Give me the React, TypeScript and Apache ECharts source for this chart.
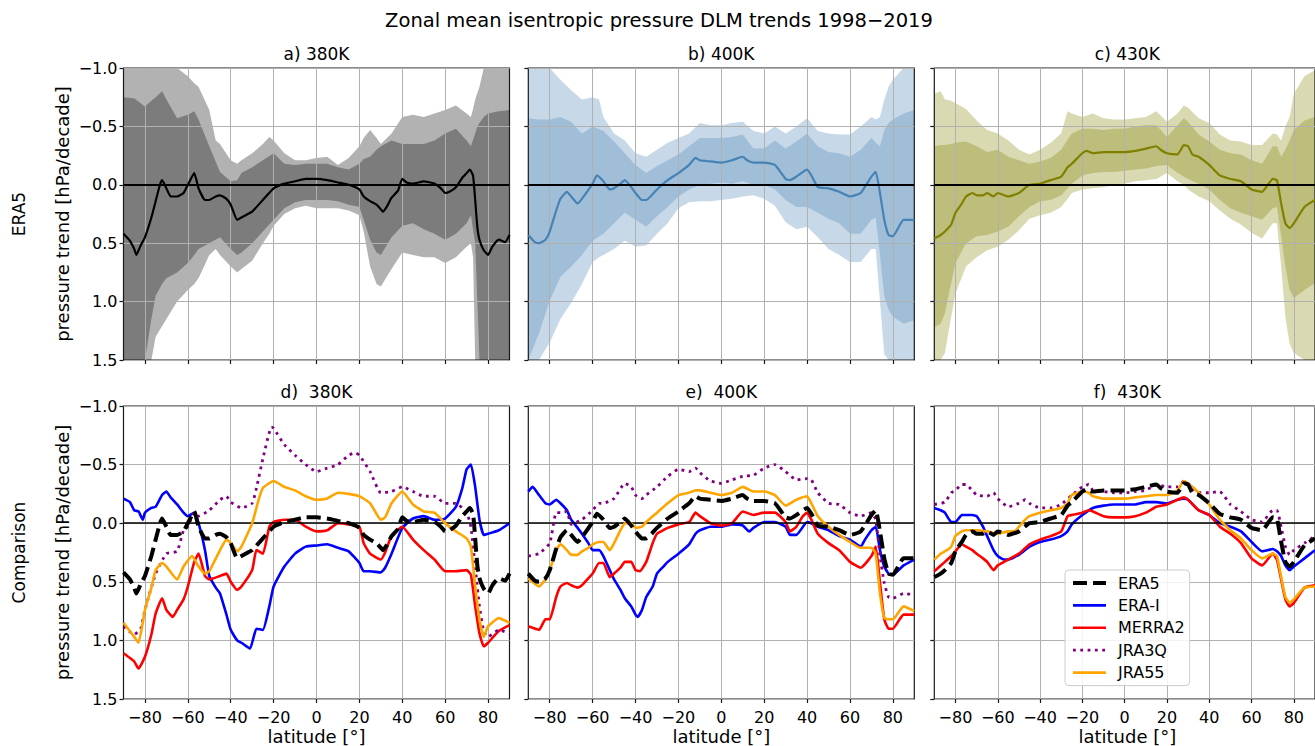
import { useEffect, useRef } from 'react';
import * as echarts from 'echarts';

const FONT = '"DejaVu Sans", "Liberation Sans", sans-serif';

// ---------- axes / labels ----------
const X_TICKS = [-80, -60, -40, -20, 0, 20, 40, 60, 80];
const Y_MIN = -1;
const Y_MAX = 1.5;
const Y_STEP = 0.5;
const SUPTITLE = 'Zonal mean isentropic pressure DLM trends 1998\u22122019';
const PANEL_TITLES = ['a) 380K', 'b) 400K', 'c) 430K', 'd)  380K', 'e)  400K', 'f)  430K'];
const ROW_LABELS = ['ERA5', 'Comparison'];
const Y_NAME = 'pressure trend [hPa/decade]';
const X_NAME = 'latitude [\u00b0]';
const LEGEND_NAMES = ['ERA5', 'ERA-I', 'MERRA2', 'JRA3Q', 'JRA55'];

// ---------- ERA5 mean trend lines [lat, trend] ----------
const ERA5_380 = [[-90,0.42],[-87,0.48],[-85,0.55],[-84,0.6],[-82,0.52],[-80,0.45],[-77,0.28],[-75,0.14],[-73,0.0],[-72,-0.04],[-70,0.03],[-68,0.1],[-65,0.1],[-62,0.07],[-60,0.0],[-57,-0.1],[-55,0.03],[-52,0.13],[-50,0.13],[-47,0.1],[-45,0.09],[-42,0.12],[-40,0.17],[-37,0.3],[-35,0.28],[-32,0.25],[-30,0.23],[-25,0.13],[-20,0.03],[-15,-0.01],[-10,-0.03],[-5,-0.05],[0,-0.05],[5,-0.04],[10,-0.02],[15,0],[20,0.04],[22,0.1],[25,0.14],[28,0.17],[30,0.21],[31,0.23],[33,0.18],[35,0.11],[38,0.05],[40,-0.05],[42,-0.02],[45,-0.01],[50,-0.03],[55,-0.01],[58,0.03],[60,0.07],[62,0.06],[65,0.02],[68,-0.06],[70,-0.1],[71.5,-0.13],[73,-0.08],[74,0.13],[75,0.36],[76,0.47],[78,0.56],[80,0.6],[82,0.53],[85,0.47],[88,0.49],[90,0.43]];
const ERA5_400 = [[-90,0.43],[-87,0.49],[-85,0.5],[-82,0.47],[-80,0.4],[-77,0.22],[-75,0.12],[-72,0.06],[-70,0.1],[-67,0.16],[-65,0.12],[-60,-0.01],[-58,-0.08],[-55,-0.03],[-52,0.04],[-50,0.03],[-47,-0.01],[-45,-0.04],[-42,0.02],[-40,0.07],[-37,0.13],[-35,0.13],[-30,0.04],[-25,-0.04],[-20,-0.1],[-15,-0.17],[-12,-0.23],[-10,-0.21],[-5,-0.2],[0,-0.19],[5,-0.21],[10,-0.24],[12,-0.21],[15,-0.19],[20,-0.19],[25,-0.17],[30,-0.05],[32,-0.04],[35,-0.07],[40,-0.13],[42,-0.08],[45,0.02],[50,0.03],[55,0.06],[60,0.1],[65,0.07],[70,-0.07],[72,-0.11],[74,0.07],[76,0.3],[78,0.43],[80,0.44],[85,0.3],[90,0.3]];
const ERA5_430 = [[-90,0.46],[-87,0.43],[-85,0.4],[-82,0.34],[-80,0.24],[-77,0.16],[-75,0.1],[-72,0.07],[-70,0.09],[-67,0.09],[-65,0.07],[-62,0.1],[-60,0.07],[-55,0.1],[-50,0.07],[-45,0.0],[-40,-0.01],[-35,-0.04],[-30,-0.07],[-27,-0.15],[-25,-0.18],[-20,-0.27],[-18,-0.29],[-15,-0.27],[-10,-0.28],[-5,-0.28],[0,-0.28],[5,-0.29],[10,-0.31],[15,-0.33],[17,-0.3],[20,-0.27],[25,-0.26],[28,-0.34],[30,-0.33],[32,-0.26],[35,-0.24],[40,-0.17],[45,-0.08],[50,-0.05],[55,-0.03],[60,0.04],[65,0.06],[70,-0.05],[72,-0.04],[74,0.16],[76,0.33],[78,0.37],[80,0.33],[85,0.19],[90,0.13]];

// ---------- ERA5 uncertainty bands [lat, upper edge, lower edge] ----------
const A_OUTER = [[-90,-1.1,1.6],[-85,-1.1,1.6],[-80,-1.1,1.6],[-77,-1.1,1.5],[-75,-1.1,1.3],[-70,-1.1,1.15],[-65,-1.05,1.0],[-60,-0.93,0.9],[-57,-0.87,0.85],[-55,-0.84,0.8],[-50,-0.64,0.6],[-47,-0.38,0.55],[-45,-0.35,0.6],[-40,-0.21,0.7],[-37,-0.18,0.75],[-35,-0.21,0.72],[-30,-0.27,0.65],[-25,-0.35,0.5],[-22,-0.41,0.42],[-20,-0.38,0.35],[-15,-0.27,0.25],[-10,-0.21,0.2],[-5,-0.21,0.18],[0,-0.23,0.2],[5,-0.24,0.2],[10,-0.17,0.2],[15,-0.23,0.22],[20,-0.33,0.26],[22,-0.4,0.4],[25,-0.47,0.7],[28,-0.4,0.85],[30,-0.35,0.87],[35,-0.44,0.72],[40,-0.58,0.58],[45,-0.6,0.6],[50,-0.58,0.62],[55,-0.61,0.62],[60,-0.64,0.67],[65,-0.68,0.62],[70,-0.61,0.53],[72,-0.58,0.5],[73,-0.65,0.62],[74,-0.73,1.6],[76,-0.84,1.6],[78,-1.0,1.6],[80,-1.1,1.6],[85,-1.1,1.6],[90,-1.1,1.6]];
const A_INNER = [[-90,-0.75,1.6],[-85,-0.74,1.6],[-80,-0.67,1.5],[-77,-0.72,1.15],[-75,-0.75,0.95],[-72,-0.8,0.85],[-70,-0.73,0.8],[-65,-0.57,0.75],[-60,-0.6,0.67],[-57,-0.63,0.6],[-55,-0.56,0.55],[-50,-0.33,0.5],[-45,-0.11,0.45],[-40,-0.03,0.55],[-37,-0.04,0.6],[-35,-0.1,0.58],[-30,-0.15,0.5],[-25,-0.21,0.4],[-20,-0.27,0.3],[-15,-0.18,0.2],[-10,-0.17,0.15],[-5,-0.18,0.13],[0,-0.18,0.13],[5,-0.18,0.13],[10,-0.15,0.14],[15,-0.13,0.17],[20,-0.18,0.19],[22,-0.22,0.3],[25,-0.24,0.47],[28,-0.3,0.58],[30,-0.33,0.6],[35,-0.38,0.45],[40,-0.35,0.35],[45,-0.35,0.33],[50,-0.35,0.38],[55,-0.38,0.42],[60,-0.44,0.47],[65,-0.48,0.42],[70,-0.38,0.33],[72,-0.33,0.26],[74,-0.44,0.5],[75,-0.5,1.0],[76,-0.53,1.6],[78,-0.58,1.6],[80,-0.61,1.6],[85,-0.63,1.6],[90,-0.64,1.6]];
const B_OUTER = [[-90,-1.05,1.6],[-85,-1.05,1.55],[-80,-1.05,1.35],[-75,-0.9,1.15],[-70,-0.81,1.01],[-65,-0.73,0.85],[-60,-0.75,0.66],[-57,-0.73,0.62],[-55,-0.58,0.6],[-50,-0.44,0.55],[-45,-0.38,0.48],[-40,-0.27,0.53],[-35,-0.24,0.52],[-30,-0.3,0.42],[-25,-0.36,0.33],[-20,-0.4,0.2],[-15,-0.44,0.15],[-10,-0.53,0.14],[-5,-0.51,0.14],[0,-0.51,0.13],[5,-0.53,0.12],[10,-0.54,0.1],[15,-0.46,0.09],[20,-0.44,0.12],[25,-0.5,0.18],[30,-0.44,0.32],[35,-0.5,0.38],[40,-0.57,0.36],[45,-0.46,0.45],[50,-0.44,0.55],[55,-0.43,0.6],[60,-0.43,0.66],[65,-0.5,0.66],[70,-0.58,0.55],[72,-0.56,0.55],[74,-0.58,1.0],[76,-0.73,1.45],[78,-0.84,1.6],[80,-0.9,1.6],[85,-1.05,1.6],[90,-1.05,1.6]];
const B_INNER = [[-90,-0.57,1.5],[-85,-0.56,1.27],[-80,-0.56,0.99],[-75,-0.58,0.79],[-70,-0.54,0.7],[-65,-0.44,0.6],[-60,-0.5,0.48],[-55,-0.46,0.42],[-50,-0.37,0.33],[-45,-0.27,0.24],[-40,-0.17,0.3],[-35,-0.1,0.36],[-30,-0.16,0.27],[-25,-0.21,0.19],[-20,-0.26,0.1],[-15,-0.33,0.04],[-10,-0.4,0.0],[-5,-0.4,-0.01],[0,-0.4,-0.02],[5,-0.41,-0.01],[10,-0.43,-0.03],[15,-0.31,0.0],[20,-0.31,0.0],[25,-0.38,0.04],[30,-0.31,0.13],[35,-0.37,0.19],[40,-0.44,0.19],[45,-0.33,0.24],[50,-0.28,0.29],[55,-0.27,0.33],[60,-0.24,0.42],[65,-0.3,0.42],[70,-0.4,0.3],[72,-0.36,0.28],[74,-0.33,0.6],[76,-0.47,0.95],[78,-0.53,1.07],[80,-0.56,1.13],[85,-0.61,1.19],[90,-0.64,1.16]];
const C_OUTER = [[-90,-0.78,1.55],[-87,-0.8,1.5],[-85,-0.73,1.44],[-82,-0.72,1.13],[-80,-0.7,0.93],[-75,-0.65,0.7],[-70,-0.55,0.62],[-65,-0.47,0.56],[-60,-0.44,0.53],[-55,-0.38,0.47],[-50,-0.3,0.39],[-45,-0.26,0.29],[-40,-0.3,0.26],[-35,-0.36,0.24],[-30,-0.44,0.19],[-27,-0.63,0.12],[-25,-0.61,0.07],[-20,-0.58,0.04],[-15,-0.61,0.03],[-10,-0.57,0.02],[-5,-0.56,0.0],[0,-0.56,-0.01],[5,-0.57,-0.03],[10,-0.58,-0.04],[15,-0.63,-0.05],[20,-0.54,-0.1],[25,-0.61,-0.03],[28,-0.68,0.0],[30,-0.66,0.04],[35,-0.57,0.1],[40,-0.53,0.14],[45,-0.43,0.22],[50,-0.38,0.29],[55,-0.37,0.34],[60,-0.34,0.41],[65,-0.34,0.46],[70,-0.44,0.33],[72,-0.43,0.33],[74,-0.38,0.7],[76,-0.5,1.13],[78,-0.58,1.36],[80,-0.78,1.44],[85,-0.93,1.5],[90,-0.98,1.5]];
const C_INNER = [[-90,-0.33,1.22],[-87,-0.34,1.19],[-85,-0.34,1.1],[-82,-0.35,0.84],[-80,-0.36,0.67],[-75,-0.37,0.5],[-70,-0.33,0.44],[-65,-0.28,0.43],[-60,-0.3,0.4],[-55,-0.24,0.36],[-50,-0.21,0.27],[-45,-0.18,0.19],[-40,-0.2,0.14],[-35,-0.23,0.13],[-30,-0.3,0.09],[-25,-0.44,-0.01],[-20,-0.48,-0.08],[-15,-0.48,-0.1],[-10,-0.47,-0.11],[-5,-0.48,-0.11],[0,-0.48,-0.12],[5,-0.5,-0.13],[10,-0.51,-0.14],[15,-0.51,-0.16],[20,-0.41,-0.17],[25,-0.51,-0.1],[28,-0.57,-0.07],[30,-0.54,-0.05],[35,-0.43,-0.01],[40,-0.37,0.04],[45,-0.3,0.13],[50,-0.27,0.2],[55,-0.26,0.24],[60,-0.21,0.27],[65,-0.18,0.3],[70,-0.33,0.2],[72,-0.33,0.19],[74,-0.24,0.44],[76,-0.3,0.7],[78,-0.38,0.9],[80,-0.47,0.97],[85,-0.55,0.9],[90,-0.58,0.84]];

// ---------- comparison reanalyses, 380 K [lat, trend] ----------
const D_ERAI = [[-90,-0.21],[-87,-0.18],[-85,-0.11],[-83,-0.1],[-81,-0.03],[-80,-0.09],[-77,-0.13],[-75,-0.14],[-72,-0.24],[-70,-0.27],[-68,-0.22],[-65,-0.16],[-62,-0.09],[-60,-0.06],[-57,-0.09],[-55,0.0],[-52,0.23],[-50,0.45],[-47,0.55],[-45,0.6],[-42,0.78],[-40,0.91],[-37,1.0],[-35,1.02],[-31,1.07],[-28,0.9],[-25,0.91],[-22,0.71],[-20,0.54],[-15,0.37],[-10,0.26],[-5,0.2],[0,0.19],[5,0.18],[10,0.21],[15,0.24],[20,0.34],[22,0.41],[25,0.41],[30,0.42],[32,0.38],[35,0.26],[40,0.04],[45,-0.04],[50,-0.06],[55,-0.03],[60,-0.04],[65,-0.14],[68,-0.3],[70,-0.46],[72,-0.5],[74,-0.31],[76,-0.03],[78,0.1],[80,0.09],[85,0.06],[90,0.0]];
const D_MERRA2 = [[-90,1.11],[-87,1.15],[-85,1.18],[-83,1.24],[-80,1.14],[-77,0.95],[-75,0.77],[-72,0.64],[-70,0.74],[-67,0.8],[-65,0.74],[-62,0.65],[-60,0.54],[-57,0.33],[-55,0.26],[-52,0.45],[-50,0.48],[-45,0.45],[-42,0.43],[-40,0.5],[-37,0.57],[-35,0.54],[-30,0.4],[-28,0.23],[-25,0.26],[-22,0.03],[-20,-0.01],[-15,-0.03],[-10,-0.03],[-5,0.03],[0,0.07],[5,0.06],[10,0.0],[15,0.01],[20,0.03],[22,0.17],[25,0.26],[30,0.31],[32,0.25],[35,0.11],[40,0.03],[45,0.14],[50,0.23],[55,0.31],[60,0.41],[65,0.41],[70,0.4],[72,0.44],[74,0.71],[76,0.94],[78,1.05],[80,1.02],[85,0.92],[90,0.87]];
const D_JRA3Q = [[-90,0.88],[-85,0.95],[-82,0.9],[-80,0.74],[-75,0.43],[-70,0.26],[-65,0.24],[-62,0.06],[-60,0.03],[-57,-0.09],[-55,-0.06],[-50,-0.11],[-45,-0.2],[-42,-0.23],[-40,-0.18],[-35,-0.13],[-30,-0.17],[-28,-0.3],[-25,-0.55],[-21,-0.82],[-20,-0.81],[-15,-0.67],[-10,-0.58],[-5,-0.5],[0,-0.44],[5,-0.47],[10,-0.5],[15,-0.58],[18,-0.6],[20,-0.58],[25,-0.44],[30,-0.26],[35,-0.27],[40,-0.31],[45,-0.27],[50,-0.23],[55,-0.23],[60,-0.17],[65,-0.17],[70,-0.09],[72,0.03],[74,0.37],[76,0.71],[78,0.92],[80,0.97],[85,0.91],[90,0.94]];
const D_JRA55 = [[-90,0.85],[-85,0.97],[-83,1.02],[-80,0.74],[-77,0.55],[-75,0.4],[-72,0.34],[-70,0.37],[-65,0.48],[-62,0.37],[-58,0.28],[-55,0.37],[-52,0.43],[-50,0.41],[-45,0.23],[-42,0.14],[-40,0.17],[-37,0.24],[-35,0.2],[-30,0.0],[-27,-0.2],[-25,-0.3],[-20,-0.36],[-15,-0.31],[-10,-0.28],[-5,-0.23],[0,-0.2],[5,-0.21],[10,-0.26],[15,-0.25],[20,-0.23],[25,-0.17],[30,-0.03],[32,-0.05],[35,-0.17],[40,-0.27],[45,-0.16],[50,-0.1],[55,-0.09],[60,0.0],[65,0.07],[70,0.13],[72,0.2],[74,0.54],[76,0.82],[78,0.97],[80,0.88],[85,0.81],[90,0.85]];

// ---------- comparison reanalyses, 400 K ----------
const E_ERAI = [[-90,-0.27],[-88,-0.31],[-85,-0.24],[-82,-0.17],[-80,-0.16],[-77,-0.2],[-75,-0.17],[-72,-0.11],[-70,-0.03],[-67,0.04],[-65,0.09],[-62,0.17],[-60,0.23],[-57,0.23],[-55,0.28],[-52,0.4],[-50,0.48],[-47,0.57],[-45,0.64],[-42,0.71],[-40,0.78],[-39,0.8],[-37,0.74],[-35,0.63],[-32,0.54],[-30,0.43],[-27,0.37],[-25,0.33],[-20,0.26],[-15,0.18],[-12,0.09],[-10,0.06],[-5,0.03],[0,0.03],[5,0.01],[10,0.02],[13,0.07],[15,0.04],[20,-0.01],[25,-0.01],[30,0.03],[32,0.1],[35,0.1],[40,-0.01],[42,0.0],[45,0.03],[50,0.06],[55,0.11],[60,0.14],[65,0.2],[67,0.14],[70,0.06],[72,0.03],[74,0.23],[76,0.37],[78,0.43],[80,0.44],[85,0.36],[90,0.31]];
const E_MERRA2 = [[-90,0.88],[-85,0.91],[-82,0.82],[-80,0.82],[-77,0.63],[-75,0.54],[-72,0.51],[-70,0.53],[-67,0.55],[-65,0.53],[-62,0.47],[-60,0.43],[-57,0.34],[-55,0.34],[-52,0.46],[-50,0.43],[-47,0.38],[-45,0.33],[-42,0.33],[-40,0.4],[-38,0.41],[-35,0.33],[-32,0.17],[-30,0.09],[-27,0.06],[-25,0.04],[-20,0.01],[-15,-0.01],[-12,-0.09],[-10,-0.06],[-5,0.0],[0,0.02],[5,0.0],[10,-0.1],[15,-0.07],[20,-0.09],[25,-0.09],[30,-0.01],[32,0.07],[35,0.03],[38,-0.06],[40,-0.09],[42,-0.03],[45,0.09],[50,0.17],[55,0.23],[60,0.33],[65,0.38],[70,0.28],[72,0.2],[74,0.51],[76,0.82],[78,0.9],[80,0.9],[85,0.78],[90,0.78]];
const E_JRA3Q = [[-90,0.28],[-85,0.26],[-80,0.17],[-77,-0.09],[-75,-0.09],[-72,-0.1],[-70,0.01],[-65,-0.03],[-60,-0.11],[-57,-0.17],[-55,-0.17],[-50,-0.21],[-45,-0.34],[-42,-0.31],[-40,-0.24],[-37,-0.21],[-35,-0.24],[-30,-0.31],[-25,-0.4],[-20,-0.46],[-15,-0.44],[-12,-0.47],[-10,-0.43],[-5,-0.36],[0,-0.34],[5,-0.37],[10,-0.4],[15,-0.41],[20,-0.47],[25,-0.5],[30,-0.44],[35,-0.37],[40,-0.38],[42,-0.37],[45,-0.26],[50,-0.17],[55,-0.16],[60,-0.09],[65,-0.06],[70,-0.09],[72,-0.03],[74,0.28],[76,0.51],[78,0.63],[80,0.64],[85,0.6],[90,0.61]];
const E_JRA55 = [[-90,0.47],[-85,0.54],[-82,0.48],[-80,0.4],[-77,0.23],[-75,0.18],[-72,0.23],[-70,0.27],[-67,0.27],[-65,0.24],[-62,0.21],[-60,0.18],[-57,0.16],[-55,0.16],[-52,0.23],[-50,0.17],[-47,0.06],[-45,0.0],[-42,0.0],[-40,0.04],[-37,0.03],[-35,-0.01],[-30,-0.09],[-25,-0.17],[-20,-0.24],[-15,-0.26],[-12,-0.28],[-10,-0.28],[-5,-0.26],[0,-0.24],[5,-0.26],[10,-0.31],[15,-0.27],[20,-0.27],[25,-0.24],[30,-0.15],[35,-0.2],[40,-0.23],[42,-0.17],[45,-0.06],[50,0.03],[55,0.1],[60,0.16],[65,0.21],[70,0.21],[72,0.26],[74,0.6],[76,0.81],[78,0.82],[80,0.82],[85,0.71],[90,0.75]];

// ---------- comparison reanalyses, 430 K ----------
const F_ERAI = [[-90,-0.13],[-87,-0.11],[-85,-0.09],[-82,-0.01],[-80,-0.01],[-77,-0.07],[-75,-0.07],[-72,-0.07],[-70,-0.06],[-67,0.03],[-65,0.11],[-62,0.23],[-60,0.28],[-57,0.31],[-55,0.31],[-50,0.27],[-45,0.2],[-40,0.16],[-35,0.14],[-30,0.11],[-27,0.07],[-25,0.01],[-20,-0.07],[-15,-0.13],[-10,-0.15],[-5,-0.16],[0,-0.16],[5,-0.16],[10,-0.18],[15,-0.18],[20,-0.17],[25,-0.2],[28,-0.21],[30,-0.2],[35,-0.11],[40,-0.07],[45,0.0],[50,0.03],[55,0.07],[60,0.16],[65,0.24],[70,0.22],[72,0.24],[74,0.28],[76,0.36],[78,0.4],[80,0.37],[85,0.3],[90,0.23]];
const F_MERRA2 = [[-90,0.41],[-85,0.33],[-82,0.28],[-80,0.24],[-77,0.18],[-75,0.2],[-72,0.23],[-70,0.26],[-67,0.3],[-65,0.33],[-62,0.4],[-60,0.36],[-57,0.33],[-55,0.31],[-50,0.26],[-45,0.18],[-40,0.14],[-35,0.11],[-30,0.07],[-27,-0.06],[-25,-0.07],[-20,-0.09],[-17,-0.11],[-15,-0.1],[-10,-0.06],[-5,-0.05],[0,-0.05],[5,-0.06],[10,-0.09],[15,-0.14],[20,-0.16],[25,-0.2],[28,-0.22],[30,-0.2],[35,-0.11],[40,-0.07],[45,0.03],[50,0.09],[55,0.17],[60,0.3],[65,0.36],[70,0.26],[72,0.31],[74,0.48],[76,0.65],[78,0.71],[80,0.68],[85,0.55],[90,0.53]];
const F_JRA3Q = [[-90,-0.16],[-85,-0.18],[-82,-0.26],[-80,-0.28],[-77,-0.33],[-75,-0.33],[-72,-0.28],[-70,-0.24],[-65,-0.23],[-62,-0.26],[-60,-0.21],[-55,-0.14],[-50,-0.17],[-47,-0.2],[-45,-0.17],[-40,-0.13],[-35,-0.13],[-30,-0.16],[-25,-0.24],[-20,-0.31],[-17,-0.33],[-15,-0.28],[-10,-0.27],[-5,-0.26],[0,-0.26],[5,-0.27],[10,-0.28],[15,-0.33],[20,-0.31],[25,-0.31],[28,-0.36],[30,-0.34],[35,-0.26],[40,-0.26],[45,-0.27],[50,-0.16],[55,-0.1],[60,-0.03],[65,-0.01],[70,-0.11],[72,-0.11],[74,0.03],[76,0.2],[78,0.27],[80,0.23],[85,0.17],[90,0.11]];
const F_JRA55 = [[-90,0.31],[-87,0.26],[-85,0.24],[-82,0.2],[-80,0.11],[-77,0.07],[-75,0.06],[-70,0.06],[-65,0.07],[-60,0.09],[-55,0.07],[-52,0.07],[-50,0.03],[-47,-0.03],[-45,-0.06],[-40,-0.09],[-35,-0.11],[-30,-0.13],[-27,-0.17],[-25,-0.24],[-20,-0.27],[-17,-0.26],[-15,-0.23],[-10,-0.21],[-5,-0.21],[0,-0.21],[5,-0.22],[10,-0.23],[15,-0.24],[20,-0.24],[25,-0.28],[28,-0.36],[30,-0.34],[35,-0.26],[40,-0.16],[45,-0.03],[50,0.06],[55,0.13],[60,0.23],[65,0.3],[70,0.26],[72,0.28],[74,0.46],[76,0.63],[78,0.68],[80,0.65],[85,0.55],[90,0.54]];

// ---------- panel definitions ----------
const TOP_PANELS = [
  { line: ERA5_380, outer: A_OUTER, inner: A_INNER, color: '#000000', fill: 'rgba(0,0,0,0.3)' },
  { line: ERA5_400, outer: B_OUTER, inner: B_INNER, color: '#4682b4', fill: 'rgba(70,130,180,0.3)' },
  { line: ERA5_430, outer: C_OUTER, inner: C_INNER, color: '#808000', fill: 'rgba(128,128,0,0.3)' },
];
const BOTTOM_PANELS = [
  { 'ERA-I': D_ERAI, MERRA2: D_MERRA2, JRA3Q: D_JRA3Q, JRA55: D_JRA55, ERA5: ERA5_380 },
  { 'ERA-I': E_ERAI, MERRA2: E_MERRA2, JRA3Q: E_JRA3Q, JRA55: E_JRA55, ERA5: ERA5_400 },
  { 'ERA-I': F_ERAI, MERRA2: F_MERRA2, JRA3Q: F_JRA3Q, JRA55: F_JRA55, ERA5: ERA5_430 },
];
const LINE_STYLES: Record<string, any> = {
  ERA5: { color: '#000000', width: 4, type: [14, 6] },
  'ERA-I': { color: '#0000ff', width: 2.6, type: 'solid' },
  MERRA2: { color: '#ff0000', width: 2.6, type: 'solid' },
  JRA3Q: { color: '#800080', width: 2.8, type: [2.8, 4.5] },
  JRA55: { color: '#ffa500', width: 2.6, type: 'solid' },
};

// ---------- layout ----------
const COL_LEFT = [123.5, 528.3, 934.3];
const COL_W = 386;
const ROW_TOP = [68, 406];
const ROW_H = [292, 293];

const fmtY = (v: number) => (v < 0 ? '\u2212' + Math.abs(v).toFixed(1) : v.toFixed(1));
const fmtX = (v: number) => (v < 0 ? '\u2212' + Math.abs(v) : String(v));

function bandSeries(idx: number, band: number[][], fill: string) {
  return {
    type: 'custom',
    xAxisIndex: idx,
    yAxisIndex: idx,
    z: -1,
    silent: true,
    data: [[band[0][0], band[0][1]]],
    renderItem: (_params: any, api: any) => {
      const clamp = (v: number) => Math.max(Y_MIN, Math.min(Y_MAX, v));
      const upper = band.map((p) => api.coord([p[0], clamp(p[1])]));
      const lower = band.slice().reverse().map((p) => api.coord([p[0], clamp(p[2])]));
      return { type: 'polygon', shape: { points: upper.concat(lower) }, style: { fill } };
    },
  };
}

function zeroMark(width: number) {
  return {
    silent: true,
    symbol: 'none',
    label: { show: false },
    lineStyle: { color: '#000', width, type: 'solid' },
    data: [{ yAxis: 0 }],
  };
}

function buildOption() {
  const grid: any[] = [];
  const xAxis: any[] = [];
  const yAxis: any[] = [];
  const series: any[] = [];
  const graphic: any[] = [];

  for (let r = 0; r < 2; r++) {
    for (let c = 0; c < 3; c++) {
      const idx = r * 3 + c;
      grid.push({
        left: COL_LEFT[c], top: ROW_TOP[r], width: COL_W, height: ROW_H[r],
        show: true, borderColor: '#1a1a1a', borderWidth: 1.2, backgroundColor: 'transparent',
        containLabel: false,
      });
      xAxis.push({
        gridIndex: idx, type: 'value', min: -90, max: 90,
        axisLine: { show: false, onZero: false },
        axisTick: { show: true, length: 4, customValues: X_TICKS, lineStyle: { color: '#1a1a1a', width: 1.2 } },
        axisLabel: {
          show: r === 1, customValues: X_TICKS, formatter: fmtX, color: '#000',
          fontSize: 16, fontFamily: FONT, margin: 10,
        },
        splitLine: { show: true, lineStyle: { color: '#b0b0b0', width: 1 } },
      });
      yAxis.push({
        gridIndex: idx, type: 'value', min: Y_MIN, max: Y_MAX, interval: Y_STEP, inverse: true,
        axisLine: { show: false, onZero: false },
        axisTick: { show: true, length: 4, lineStyle: { color: '#1a1a1a', width: 1.2 } },
        axisLabel: { show: c === 0, formatter: fmtY, color: '#000', fontSize: 16, fontFamily: FONT, margin: 6 },
        splitLine: { show: true, lineStyle: { color: '#b0b0b0', width: 1 } },
      });

      if (r === 0) {
        const p = TOP_PANELS[c];
        series.push(bandSeries(idx, p.outer, p.fill));
        series.push(bandSeries(idx, p.inner, p.fill));
        series.push({
          type: 'line', name: 'ERA5 ' + PANEL_TITLES[idx], xAxisIndex: idx, yAxisIndex: idx,
          data: p.line, showSymbol: false, symbol: 'none', smooth: 0.15, silent: true,
          lineStyle: { color: p.color, width: 2.2 }, itemStyle: { color: p.color }, z: 3,
          markLine: zeroMark(2),
        });
      } else {
        const p: any = BOTTOM_PANELS[c];
        ['ERA-I', 'MERRA2', 'JRA3Q', 'JRA55', 'ERA5'].forEach((name, k) => {
          const st = LINE_STYLES[name];
          series.push({
            type: 'line', name, xAxisIndex: idx, yAxisIndex: idx,
            data: p[name], showSymbol: false, symbol: 'none', smooth: 0.15, silent: true,
            lineStyle: { color: st.color, width: st.width, type: st.type, cap: 'butt' },
            itemStyle: { color: st.color }, z: 3 + k,
            markLine: k === 0 ? zeroMark(1.6) : undefined,
          });
        });
      }

      const cx = COL_LEFT[c] + COL_W / 2;
      const cy = ROW_TOP[r] + ROW_H[r] / 2;
      graphic.push({
        type: 'text', x: cx, y: r === 0 ? 53.5 : 392, silent: true,
        style: { text: PANEL_TITLES[idx], fontSize: 17, fontFamily: FONT, fill: '#000', align: 'center', verticalAlign: 'middle' },
      });
      if (c === 0) {
        graphic.push({
          type: 'text', x: 62.5, y: cy, rotation: Math.PI / 2, silent: true,
          style: { text: Y_NAME, fontSize: 18, fontFamily: FONT, fill: '#000', align: 'center', verticalAlign: 'middle' },
        });
        graphic.push({
          type: 'text', x: 18.5, y: cy, rotation: Math.PI / 2, silent: true,
          style: { text: ROW_LABELS[r], fontSize: 17, fontFamily: FONT, fill: '#000', align: 'center', verticalAlign: 'middle' },
        });
      }
      if (r === 1) {
        graphic.push({
          type: 'text', x: cx, y: 736.5, silent: true,
          style: { text: X_NAME, fontSize: 18, fontFamily: FONT, fill: '#000', align: 'center', verticalAlign: 'middle' },
        });
      }
    }
  }

  graphic.push({
    type: 'text', x: 659, y: 20, silent: true,
    style: { text: SUPTITLE, fontSize: 19.5, fontFamily: FONT, fill: '#000', align: 'center', verticalAlign: 'middle' },
  });

  return {
    animation: false,
    backgroundColor: '#ffffff',
    textStyle: { fontFamily: FONT },
    grid, xAxis, yAxis, series, graphic,
    legend: {
      data: LEGEND_NAMES.map((name) => ({
        name,
        lineStyle: {
          color: LINE_STYLES[name].color,
          width: LINE_STYLES[name].width,
          type: LINE_STYLES[name].type,
          cap: 'butt',
        },
      })),
      orient: 'vertical',
      left: 1065, top: 570,
      itemWidth: 33, itemHeight: 12, itemGap: 6.4,
      selectedMode: false,
      itemStyle: { opacity: 0, borderWidth: 0 },
      backgroundColor: 'rgba(255,255,255,0.85)',
      borderColor: '#cccccc', borderWidth: 1, borderRadius: 4,
      padding: [5, 5, 5, 6],
      textStyle: { fontSize: 16, fontFamily: FONT, color: '#000', padding: [0, 0, 0, 7] },
    },
  };
}

export default function App() {
  const ref = useRef<HTMLDivElement>(null);
  useEffect(() => {
    const chart = echarts.init(ref.current!, null, { renderer: 'svg' });
    chart.setOption(buildOption() as any);
    return () => chart.dispose();
  }, []);
  return (
    <div
      ref={ref}
      style={{ position: 'fixed', left: 0, top: 0, width: 1315, height: 746, background: '#fff' }}
    />
  );
}
